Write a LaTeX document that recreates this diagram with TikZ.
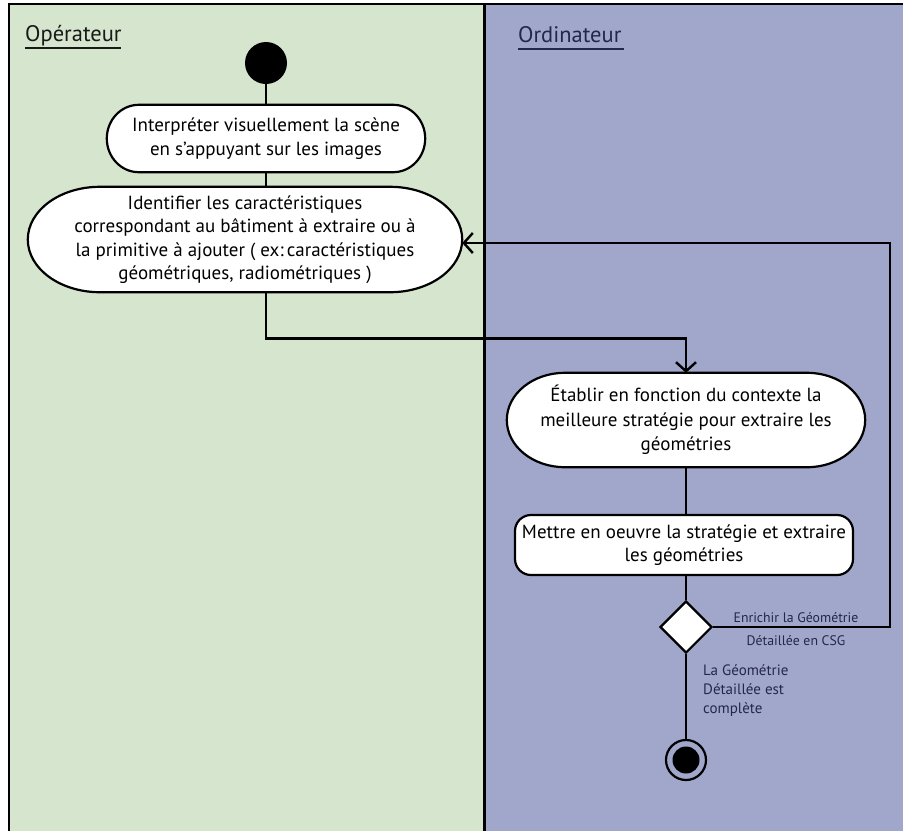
\documentclass[tikz,border=0pt]{standalone}
\usepackage{fontspec}
\setmainfont{PT Sans}
\usetikzlibrary{arrows.meta,shapes.geometric,calc}
\definecolor{lanegreen}{HTML}{D6E5CD}
\definecolor{lanepurple}{HTML}{A1A6CB}
\definecolor{navytext}{HTML}{23284A}
\tikzset{
  flow/.style={line width=2.8pt, draw=black},
  arr/.style={flow, -{Straight Barb[length=9pt,width=20pt,line width=2.4pt]}},
  boxtext/.style={align=center, font=\fontsize{19}{23.5}\selectfont, inner sep=0pt, text=black},
  lbl/.style={font=\fontsize{15}{19}\selectfont, text=navytext, inner sep=0pt},
  lanetitle/.style={font=\fontsize{22.5}{28}\selectfont, inner sep=0pt, anchor=base west},
}
% draws a box with elliptic ends around node #1, horizontal radius #2 (pt)
\newcommand{\ellbox}[2]{%
  \path let \p1=(#1.north west), \p2=(#1.south east), \n1={(\y1-\y2)/2} in
    [draw=black, line width=2.2pt, fill=white]
    (\x1+#2pt,\y1) -- (\x2-#2pt,\y1)
    arc[start angle=90, end angle=-90, x radius=#2pt, y radius=\n1]
    -- (\x1+#2pt,\y2)
    arc[start angle=270, end angle=90, x radius=#2pt, y radius=\n1] -- cycle;}
\begin{document}
\begin{tikzpicture}[x=1pt,y=-1pt]
\useasboundingbox (0,0) rectangle (903,831);
\fill[white] (0,0) rectangle (903,831);
\fill[lanegreen] (9,4) rectangle (484,831);
\fill[lanepurple] (484,4) rectangle (903,831);
\draw[line width=2.5pt] (9,831) -- (9,4) -- (903,4);
\draw[line width=3pt] (484,4) -- (484,831);

% lane titles
\node[lanetitle, text=black!90] (tOp) at (25,41) {Opérateur};
\draw[line width=2pt, black!90] (tOp.base west) ++(0,7) -- ++(96,0);
\node[lanetitle, text=navytext] (tOr) at (518,42) {Ordinateur};
\draw[line width=2pt, navytext] (tOr.base west) ++(0,7) -- ++(106,0);

% node geometry (invisible frames)
\node[minimum width=318pt, minimum height=67pt, inner sep=0] (n1) at (266,138.5) {};
\node[minimum width=434pt, minimum height=105pt, inner sep=0] (n2) at (245,239.5) {};
\node[minimum width=358pt, minimum height=94pt, inner sep=0] (n3) at (686,420) {};
\node[draw, fill=white, line width=2.2pt, rounded corners=16pt, minimum width=338pt, minimum height=60pt, inner sep=0] (n4) at (684,545) {};

\ellbox{n1}{32}
\ellbox{n2}{72}
\ellbox{n3}{58}

\node[boxtext] at (n1) {Interpréter visuellement la scène\\en s'appuyant sur les images};
\node[boxtext] at (n2) {Identifier les caractéristiques\\correspondant au bâtiment à extraire ou à\\la primitive à ajouter ( ex:\,caractéristiques\\géométriques, radiométriques )};
\node[boxtext, font=\fontsize{19}{24.5}\selectfont] at (n3) {Établir en fonction du contexte la\\meilleure stratégie pour extraire les\\géométries};
\node[boxtext] at (n4) {Mettre en oeuvre la stratégie et extraire\\les géométries};

\node[circle, fill=black, minimum size=42pt, inner sep=0] (start) at (266,63) {};
\node[diamond, draw, fill=white, line width=2.2pt, minimum width=52pt, minimum height=52pt, inner sep=0] (dec) at (686,627) {};
\node[circle, draw, line width=2.2pt, fill=none, minimum size=40pt, inner sep=0] (end) at (686,760) {};
\node[circle, fill=black, minimum size=27pt, inner sep=0] at (end) {};

\coordinate (loop) at (890,243);

% connectors
\draw[flow] (start) -- (n1.north);
\draw[flow] (n1.south) -- (n1.south |- n2.north);
\draw[arr] (n1.south |- n2.south) -- ++(0,46) -| (n3.north);
\draw[flow] (n3.south) -- (n3.south |- n4.north);
\draw[flow] (n4.south -| dec.north) -- (dec.north);
\draw[arr] (dec.east) -| (loop) -- (n2.east |- loop);
\draw[flow] (dec.south) -- (end.north);

% labels
\node[lbl, align=center, font=\fontsize{13.8}{22.5}\selectfont] (lEnr) at (796,629) {Enrichir la Géométrie\\Détaillée en CSG};
\node[lbl, align=left, anchor=north west] (lComp) at (703,664) {La Géométrie\\Détaillée est\\complète};
\end{tikzpicture}
\end{document}
